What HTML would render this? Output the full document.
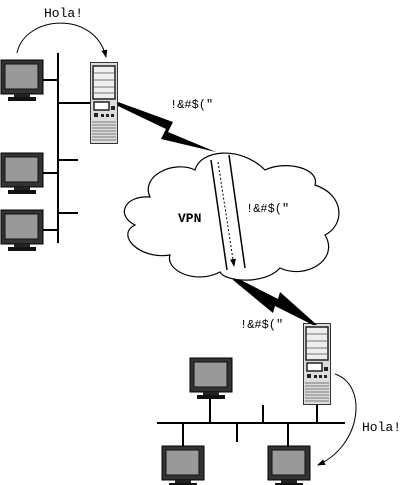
<!DOCTYPE html>
<html><head><style>body{margin:0;background:#fff}svg{display:block}text{font-family:"Liberation Mono",monospace}</style></head><body>
<svg width="409" height="485" viewBox="0 0 409 485" xmlns="http://www.w3.org/2000/svg">
<defs>
<g id="mon">
<rect x="0" y="0" width="42" height="34" fill="#333" stroke="#000"/>
<rect x="4" y="4" width="33" height="25" fill="#999" stroke="#111"/>
<rect x="13" y="34" width="16" height="3" fill="#222"/>
<rect x="7" y="37" width="28" height="4" fill="#111"/>
</g>
<g id="srv">
<rect x="0.5" y="0.5" width="27" height="81" fill="#ddd" stroke="#333"/>
<rect x="3" y="4" width="22" height="33" fill="#eee" stroke="#222" stroke-width="1.5"/>
<line x1="4" y1="11" x2="24" y2="11" stroke="#777"/><line x1="4" y1="18" x2="24" y2="18" stroke="#777"/><line x1="4" y1="25" x2="24" y2="25" stroke="#777"/><line x1="4" y1="31" x2="24" y2="31" stroke="#777"/>
<rect x="4" y="40" width="15" height="8" fill="#fff" stroke="#222" stroke-width="1.5"/>
<rect x="21" y="44" width="4" height="4" fill="#222"/>
<rect x="4" y="51" width="4" height="4" fill="#222"/>
<rect x="11" y="52" width="3" height="3" fill="#222"/><rect x="16" y="52" width="3" height="3" fill="#222"/><rect x="21" y="52" width="3" height="3" fill="#222"/>
<g stroke="#777"><line x1="2" y1="60" x2="26" y2="60"/><line x1="2" y1="63" x2="26" y2="63"/><line x1="2" y1="66" x2="26" y2="66"/><line x1="2" y1="69" x2="26" y2="69"/><line x1="2" y1="72" x2="26" y2="72"/><line x1="2" y1="75" x2="26" y2="75"/><line x1="2" y1="78" x2="26" y2="78"/></g>
</g>
<marker id="ah" markerWidth="8" markerHeight="8" refX="7" refY="4" orient="auto"><path d="M0,1 L8,4 L0,7 z" fill="#000"/></marker>
</defs>
<g stroke="#000" stroke-width="2" fill="none">
<line x1="58" y1="53" x2="58" y2="243"/>
<line x1="42" y1="80" x2="58" y2="80"/><line x1="58" y1="103" x2="90" y2="103"/>
<line x1="58" y1="160" x2="78" y2="160"/><line x1="42" y1="173" x2="58" y2="173"/>
<line x1="58" y1="213" x2="78" y2="213"/><line x1="42" y1="230" x2="58" y2="230"/>
<line x1="157" y1="423" x2="345" y2="423"/>
<line x1="210" y1="399" x2="210" y2="423"/><line x1="263" y1="405" x2="263" y2="423"/>
<line x1="317" y1="405" x2="317" y2="423"/><line x1="237" y1="423" x2="237" y2="442"/>
<line x1="183" y1="423" x2="183" y2="446"/><line x1="288" y1="423" x2="288" y2="446"/>
</g>
<use href="#mon" x="1" y="60"/><use href="#mon" x="1" y="153"/><use href="#mon" x="1" y="210"/>
<use href="#mon" x="190" y="358"/><use href="#mon" x="162" y="446"/><use href="#mon" x="268" y="446"/>
<use href="#srv" x="90" y="62"/><use href="#srv" x="303" y="323"/>
<path d="M17,53 C25,15 95,10 106,57" fill="none" stroke="#000" stroke-width="1" marker-end="url(#ah)"/>
<path d="M335,374 C368,385 362,445 318,465" fill="none" stroke="#000" stroke-width="1" marker-end="url(#ah)"/>
<text x="44" y="17" font-size="13">Hola!</text>
<text x="362" y="431" font-size="13">Hola!</text>
<path d="M118,102 L173,122 L168,132 L216,152 L161,139 L166,129 L118,106 Z" fill="#000"/>
<path d="M235,277 L278,299 L280,292 L317,325 L313,325 L275,306 L273,313 L233,280 Z" fill="#000"/>
<path d="M150,197 C140,175 175,160 195,170 C200,150 240,145 265,170 C285,160 320,168 315,185 C345,195 345,225 325,235 C340,260 305,280 280,268 C265,285 225,282 220,272 C195,285 165,270 170,255 C140,260 115,235 135,225 C115,215 125,195 150,197 Z" fill="#fff" stroke="#000" stroke-width="1.2"/>
<g stroke="#000" stroke-width="1.5"><line x1="211" y1="160" x2="227" y2="270"/><line x1="229" y1="155" x2="245" y2="268"/></g>
<line x1="218" y1="162" x2="234" y2="266" stroke="#000" stroke-width="1" stroke-dasharray="2,2" marker-end="url(#ah)"/>
<text x="178" y="222" font-size="13" font-weight="bold">VPN</text>
<text x="170" y="108" font-size="12">!&amp;#$("</text>
<text x="246" y="212" font-size="12">!&amp;#$("</text>
<text x="240" y="328" font-size="12">!&amp;#$("</text>
</svg>
</body></html>
